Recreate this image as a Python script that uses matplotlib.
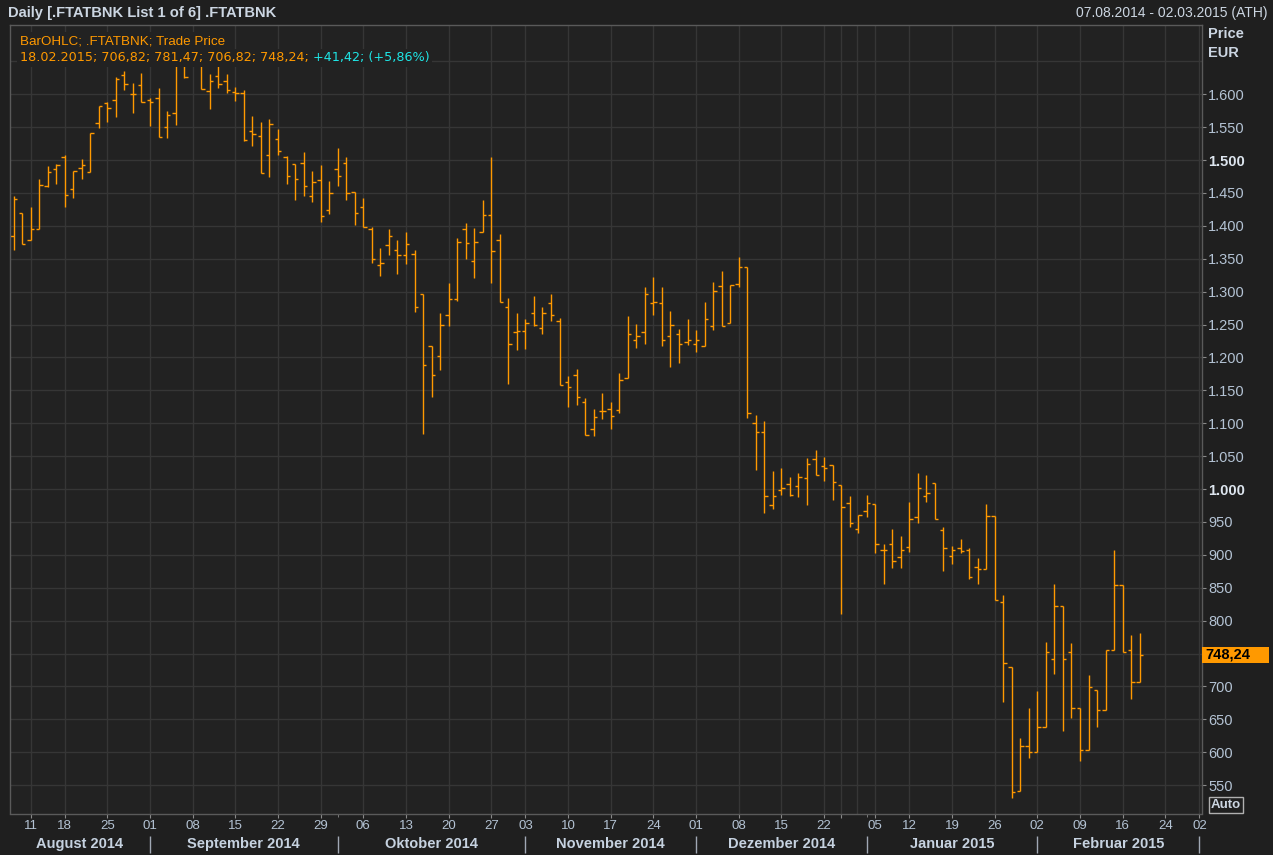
import matplotlib
matplotlib.use('Agg')
import matplotlib.pyplot as plt
from matplotlib.patches import Rectangle
import numpy as np
import pandas as pd

# Athens exchange holidays in the shown period
holidays = ['2014-08-15', '2014-10-28', '2014-12-24', '2014-12-25', '2014-12-26',
            '2015-01-01', '2015-01-06']
dates = pd.bdate_range('2014-08-07', '2015-02-18').drop(pd.to_datetime(holidays))
future_dates = pd.bdate_range('2015-02-19', '2015-03-02').drop(pd.to_datetime(['2015-02-23']))
hidden_week_labels = ['2014-12-29']

opens = [1385, 1419, 1378, 1395, 1460, 1487, 1505, 1456, 1488, 1482,
         1557, 1587, 1592, 1629, 1601, 1614, 1591, 1594, 1550, 1572,
         1652, 1650, 1655, 1605, 1628, 1620, 1604, 1602, 1544, 1536,
         1507, 1532, 1505, 1494, 1495, 1445, 1469, 1424, 1486, 1495,
         1452, 1429, 1395, 1341, 1371, 1364, 1356, 1358, 1297, 1217,
         1202, 1264, 1289, 1395, 1347, 1391, 1417, 1379, 1276, 1238,
         1240, 1267, 1245, 1283, 1255, 1162, 1173, 1133, 1092, 1118,
         1121, 1120, 1169, 1227, 1238, 1283, 1283, 1232, 1236, 1224,
         1220, 1218, 1248, 1309, 1253, 1312, 1338, 1101, 1087, 976,
         999, 1008, 1005, 1017, 1046, 1035, 1037, 1006, 979, 940,
         967, 978, 908, 917, 896, 912, 957, 990, 1009, 938,
         899, 911, 908, 882, 879, 959, 828, 729, 541, 609,
         600, 639, 741, 823, 753, 668, 603, 695, 664, 756,
         854, 755, 706.82]
highs = [1446, 1419, 1428, 1471, 1491, 1494, 1508, 1484, 1502, 1541,
         1582, 1588, 1626, 1636, 1617, 1632, 1595, 1610, 1574, 1660,
         1665, 1672, 1668, 1631, 1645, 1631, 1611, 1607, 1567, 1558,
         1562, 1547, 1506, 1494, 1512, 1484, 1492, 1468, 1518, 1505,
         1452, 1443, 1398, 1367, 1396, 1378, 1390, 1364, 1297, 1217,
         1267, 1313, 1381, 1404, 1397, 1440, 1504, 1388, 1291, 1267,
         1258, 1294, 1277, 1296, 1260, 1172, 1182, 1138, 1122, 1146,
         1132, 1176, 1263, 1251, 1307, 1323, 1307, 1271, 1243, 1258,
         1241, 1285, 1314, 1331, 1310, 1352, 1338, 1112, 1103, 1028,
         1032, 1019, 1025, 1047, 1060, 1049, 1037, 1006, 990, 961,
         991, 978, 916, 939, 928, 981, 1024, 1022, 1009, 943,
         914, 924, 911, 895, 977, 959, 839, 729, 622, 667,
         693, 767, 856, 823, 766, 668, 717, 695, 756, 907,
         854, 778, 781.47]
lows = [1363, 1372, 1378, 1395, 1459, 1464, 1428, 1442, 1472, 1482,
        1549, 1558, 1565, 1606, 1571, 1588, 1552, 1535, 1533, 1554,
        1625, 1645, 1608, 1578, 1609, 1602, 1590, 1529, 1522, 1480,
        1475, 1508, 1464, 1440, 1445, 1437, 1406, 1418, 1461, 1439,
        1401, 1398, 1343, 1324, 1356, 1327, 1342, 1269, 1083, 1140,
        1181, 1248, 1286, 1350, 1321, 1391, 1313, 1285, 1160, 1212,
        1213, 1248, 1236, 1256, 1158, 1124, 1128, 1082, 1080, 1106,
        1092, 1115, 1169, 1215, 1221, 1265, 1218, 1185, 1192, 1219,
        1209, 1218, 1242, 1248, 1253, 1307, 1108, 1029, 963, 970,
        991, 989, 988, 976, 1022, 1012, 983, 810, 942, 933,
        957, 903, 856, 880, 880, 904, 948, 980, 955, 875,
        886, 903, 864, 855, 879, 832, 677, 531, 541, 592,
        600, 639, 719, 633, 652, 586, 603, 639, 664, 756,
        753, 681, 706.82]
closes = [1441, 1372, 1395, 1462, 1482, 1493, 1447, 1484, 1492, 1541,
          1582, 1579, 1623, 1616, 1600, 1588, 1588, 1535, 1568, 1650,
          1626, 1662, 1608, 1620, 1616, 1606, 1602, 1531, 1539, 1481,
          1555, 1514, 1476, 1471, 1460, 1466, 1415, 1450, 1476, 1450,
          1420, 1398, 1350, 1344, 1385, 1355, 1373, 1276, 1188, 1174,
          1249, 1289, 1376, 1374, 1376, 1417, 1362, 1285, 1220, 1240,
          1253, 1249, 1267, 1264, 1158, 1155, 1140, 1082, 1109, 1118,
          1111, 1165, 1235, 1233, 1296, 1285, 1227, 1250, 1220, 1226,
          1226, 1259, 1301, 1248, 1310, 1338, 1116, 1086, 990, 990,
          1001, 991, 1019, 1038, 1022, 1032, 1010, 973, 949, 961,
          979, 917, 908, 891, 908, 955, 1002, 994, 955, 911,
          908, 906, 867, 879, 959, 832, 736, 539, 609, 600,
          639, 753, 823, 741, 668, 603, 699, 664, 756, 854,
          753, 706.82, 748.24]

month_names = ['August 2014', 'September 2014', 'Oktober 2014', 'November 2014',
               'Dezember 2014', 'Januar 2015', 'Februar 2015']
y_ticks = list(range(550, 1601, 50))
y_grid = list(range(550, 1651, 50))

W, H = 1273, 855
ORANGE = '#ff9900'
TXT = '#b4c3d4'
TXT_HI = '#dde5ee'
GRID = '#363636'


def px(x, y):
    return x / W, 1 - y / H


def num(v):
    return f'{v:.2f}'.replace('.', ',')


def price_label(v):
    return f'{v:,.0f}'.replace(',', '.')


def plot_chart():
    plt.rcParams['font.family'] = ['Liberation Sans', 'DejaVu Sans']
    all_dates = dates.append(future_dates)
    x = np.arange(len(dates))
    x_left, x_right = -0.47, len(all_dates) - 1 + 0.3

    fig = plt.figure(figsize=(W / 100, H / 100), dpi=100, facecolor='#1f1f1f')
    left, top = px(9.5, 25)
    right, bottom = px(1202, 813.5)
    ax = fig.add_axes([left, bottom, right - left, top - bottom], facecolor='#222222')
    ax.set_xlim(x_left, x_right)
    ax.set_ylim(506.9, 1705.3)

    # weekly ticks (first trading day of each week), month starts
    iso = all_dates.isocalendar()
    week_key = iso['year'].astype(str) + '-' + iso['week'].astype(str)
    week_idx = np.flatnonzero(~week_key.duplicated().values)[1:]
    month_key = pd.Series(all_dates.to_period('M'))
    month_idx = np.flatnonzero(~month_key.duplicated().values)[1:]
    hidden = pd.to_datetime(hidden_week_labels)
    week_labels = ['' if d in hidden else d.strftime('%d') for d in all_dates[week_idx]]

    for xi in week_idx:
        ax.axvline(xi, color=GRID, lw=1, zorder=0)
    ax.axvline(list(all_dates).index(pd.Timestamp('2014-12-31')) - 0.17, color=GRID, lw=1, zorder=0)
    for yv in y_grid:
        ax.axhline(yv, color=GRID, lw=1, zorder=0)

    # OHLC bars
    w = 0.4
    ax.vlines(x, lows, highs, color=ORANGE, lw=1.0, zorder=2)
    ax.hlines(opens, x - w, x, color=ORANGE, lw=1.0, zorder=2)
    ax.hlines(closes, x, x + w, color=ORANGE, lw=1.0, zorder=2)

    for s in ax.spines.values():
        s.set_color('#5a5a5a')
        s.set_linewidth(1)

    ax.set_xticks(week_idx, week_labels)
    minor = [m for m in month_idx if m not in week_idx]
    ax.set_xticks(minor, minor=True)
    ax.tick_params(axis='x', which='major', length=3, color='#8a8a8a', labelsize=9.5,
                   labelcolor=TXT, pad=1.5)
    ax.tick_params(axis='x', which='minor', length=2, color='#8a8a8a')

    # the last-price box sits over the nearest tick label
    ax.yaxis.tick_right()
    ax.set_yticks(y_ticks, ['' if abs(v - closes[-1]) < 25 else price_label(v) for v in y_ticks])
    ax.tick_params(axis='y', length=3, color='#8a8a8a', labelsize=10.5, labelcolor=TXT, pad=1.5)
    for lab, v in zip(ax.get_yticklabels(), y_ticks):
        if v % 500 == 0:
            lab.set_fontweight('bold')
            lab.set_color(TXT_HI)

    # month row
    xt = ax.get_xaxis_transform()
    y_sep0 = -(836 - 813.5) / (813.5 - 25)
    y_sep1 = -(853 - 813.5) / (813.5 - 25)
    y_mon = -(844 - 813.5) / (813.5 - 25)
    ax.vlines(month_idx, y_sep1, y_sep0, transform=xt, color='#a0a8b4', lw=1, clip_on=False)
    bounds = [x_left] + list(month_idx)
    for name, a, b in zip(month_names, bounds[:-1], bounds[1:]):
        ax.text((a + b) / 2, y_mon, name, transform=xt, ha='center', va='center',
                fontsize=10.5, fontweight='bold', color='#c6d2e0', clip_on=False)

    # last price label
    ppx = (x_right - x_left) / (1202 - 9.5)
    ppy = (1705.3 - 506.9) / (813.5 - 25)
    ax.add_patch(Rectangle((x_right + 0.2 * ppx, closes[-1] - 8 * ppy), 67 * ppx, 16 * ppy,
                           facecolor=ORANGE, edgecolor='none', clip_on=False, zorder=5))
    ax.text(x_right + 3 * ppx, closes[-1], num(closes[-1]), ha='left', va='center',
            fontsize=10.5, fontweight='bold', color='black', clip_on=False, zorder=6)

    # header and legend texts
    fig.text(*px(8, 13), 'Daily [.FTATBNK List 1 of 6] .FTATBNK', ha='left', va='center',
             fontsize=10.6, fontweight='bold', color='#ccd6e2')
    span = f"{dates[0]:%d.%m.%Y} - {all_dates[-1]:%d.%m.%Y} (ATH)"
    fig.text(*px(1268, 13), span, ha='right', va='center', fontsize=10, color='#ccd6e2')
    fig.text(*px(1208, 34), 'Price', ha='left', va='center', fontsize=10.5,
             fontweight='bold', color='#ccd6e2')
    fig.text(*px(1208, 53), 'EUR', ha='left', va='center', fontsize=10.5,
             fontweight='bold', color='#ccd6e2')

    box = dict(boxstyle='square,pad=0.2', facecolor='#222222', edgecolor='none')
    fig.text(*px(20, 41), 'BarOHLC; .FTATBNK; Trade Price', ha='left', va='center',
             fontsize=9.6, color=ORANGE, bbox=box)
    chg = closes[-1] - closes[-2]
    line2 = f"{dates[-1]:%d.%m.%Y}; " + '; '.join(
        num(v) for v in (opens[-1], highs[-1], lows[-1], closes[-1])) + ';'
    t2 = fig.text(*px(20, 58), line2, ha='left', va='center', fontsize=9.2,
                  family='DejaVu Sans', color=ORANGE, bbox=box)
    ax.annotate(f"+{num(chg)}; (+{num(chg / closes[-2] * 100)}%)", xy=(1, 0.5),
                xycoords=t2, xytext=(4, 0), textcoords='offset pixels', ha='left',
                va='center', fontsize=9.2, family='DejaVu Sans', color='#1ee6e6',
                bbox=box, annotation_clip=False)

    fig.text(*px(1211, 805), 'Auto', ha='left', va='center', fontsize=9.5, fontweight='bold',
             color='#ccd6e2', bbox=dict(boxstyle='square,pad=0.12', facecolor='#1f1f1f',
                                         edgecolor='#b0b0b0', lw=1))

    fig.savefig('out.png', dpi=100, facecolor=fig.get_facecolor())


def main():
    plot_chart()


if __name__ == '__main__':
    main()
